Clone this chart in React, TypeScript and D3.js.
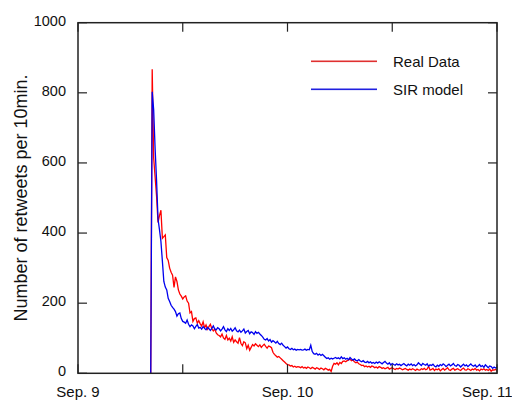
import React from "react";
import * as d3 from "d3";

// 10-minute bins, series start at bin START_BIN (minute 500)
const START_BIN = 50;
const BIN_MINUTES = 10;

const realData: number[] = [
  0, 867, 615, 560, 505, 430, 450, 465, 385, 390,
  395, 330, 322, 300, 288, 280, 245, 275, 262, 238,
  226, 220, 212, 218, 221, 206, 200, 172, 176, 148,
  156, 158, 143, 150, 141, 135, 147, 130, 138, 126,
  133, 140, 127, 121, 126, 115, 110, 108, 104, 112,
  101, 97, 108, 95, 100, 92, 104, 88, 95, 90,
  86, 102, 85, 79, 90, 87, 70, 80, 66, 74,
  82, 78, 84, 80, 76, 81, 74, 79, 83, 77,
  72, 78, 76, 73, 60, 54, 50, 46, 48, 44,
  40, 36, 32, 28, 25, 24, 21, 22, 18, 20,
  17, 19, 18, 16, 19, 15, 17, 14, 18, 16,
  13, 17, 15, 12, 16, 14, 11, 15, 13, 10,
  14, 12, 9, 11, 5, 20, 28, 26, 30, 24,
  31, 28, 34, 35, 33, 36, 38, 40, 36, 38,
  33, 30, 32, 27, 25, 22, 23, 19, 21, 18,
  20, 17, 21, 19, 16, 18, 15, 19, 17, 14,
  16, 13, 15, 17, 12, 14, 16, 13, 11, 14,
  12, 15, 13, 10, 12, 14, 11, 9, 12, 10,
  13, 11, 8, 12, 10, 9, 13, 11, 14, 10,
  12, 20, 9, 11, 14, 8, 12, 10, 13, 7,
  11, 14, 9, 12, 16, 10, 8, 12, 14, 9,
  11, 13, 10, 8, 12, 15, 10, 9, 13, 11,
  8, 12, 10, 14, 9, 11, 7, 12, 10, 13,
  9, 11, 8, 12, 6, 10, 9, 11, 8,
];

const sirModel: number[] = [
  0, 803, 752, 641, 550, 440, 410, 376, 320, 262,
  246, 238, 214, 205, 194, 188, 183, 176, 163, 170,
  172, 156, 148, 146, 143, 152, 140, 133, 138, 135,
  127, 134, 139, 129, 131, 126, 133, 128, 124, 131,
  127, 122, 128, 135, 126, 124, 130, 127, 121, 126,
  133, 124, 119, 127, 122, 128, 120, 124, 130, 121,
  118, 123, 117, 121, 126, 115, 119, 122, 113, 118,
  116, 111, 119, 114, 117, 112, 108, 103, 97, 95,
  99, 92, 96, 89, 93, 90, 86, 91, 85, 82,
  86, 80, 76, 72, 75, 70, 68, 71, 67, 69,
  66, 68, 67, 68, 66, 67, 69, 66, 68, 67,
  80, 62, 56, 54, 57, 52, 55, 51, 54, 50,
  46, 42, 44, 40, 43, 41, 43, 45, 42, 44,
  41, 47, 42, 44, 40, 43, 39, 45, 41, 38,
  41, 37, 36, 39, 35, 33, 36, 32, 31, 34,
  30, 33, 29, 31, 28, 32, 29, 33, 30, 27,
  31, 34, 29, 26, 30, 24, 28, 25, 23, 27,
  24, 26, 22, 25, 28, 24, 21, 26, 23, 27,
  22, 25, 21, 24, 30, 26, 22, 28, 25, 23,
  27, 20, 24, 22, 26, 21, 18, 23, 20, 25,
  22, 27, 24, 19, 23, 26, 21, 24, 28, 22,
  20, 25, 23, 18, 22, 26, 21, 24, 19, 23,
  27, 22, 20, 24, 18, 21, 25, 19, 22, 17,
  24, 20, 16, 21, 19, 14, 18, 15, 18,
];

const yTicks = [0, 200, 400, 600, 800, 1000];
const xTickMinutes = [0, 720, 1440, 2160, 2880];
const xLabels = [
  { minute: 0, text: "Sep. 9" },
  { minute: 1440, text: "Sep. 10" },
  { minute: 2880, text: "Sep. 11" },
];
const seriesNames = ["Real Data", "SIR model"];
const seriesColors = ["#ff0000", "#0000ee"];
const legendColors = ["#e03030", "#2020e0"];

const W = 512;
const H = 400;
const L = 78;
const R = 497;
const T = 22.7;
const B = 373.3;

export default function App() {
  const x = d3.scaleLinear().domain([0, 2880]).range([L, R]);
  const y = d3.scaleLinear().domain([0, 1000]).range([B, T]);
  const line = d3
    .line<number>()
    .x((_, i) => x((START_BIN + i) * BIN_MINUTES))
    .y((d) => y(d));

  const font = "Liberation Sans, Arial, Helvetica, sans-serif";
  const tickLen = 9;
  const axisColor = "#222";

  return (
    <svg
      width={W}
      height={H}
      style={{ position: "absolute", left: 0, top: 0, background: "#fff" }}
      fontFamily={font}
    >
      {/* data */}
      <path d={line(realData) || ""} fill="none" stroke={seriesColors[0]} strokeWidth={1.3} />
      <path d={line(sirModel) || ""} fill="none" stroke={seriesColors[1]} strokeWidth={1.3} />

      {/* frame */}
      <rect x={L} y={T} width={R - L} height={B - T} fill="none" stroke={axisColor} strokeWidth={1.5} />

      {/* y ticks */}
      {yTicks.map((t) => (
        <g key={"y" + t}>
          <line x1={L} x2={L + tickLen} y1={y(t)} y2={y(t)} stroke={axisColor} strokeWidth={1.2} />
          <line x1={R} x2={R - tickLen} y1={y(t)} y2={y(t)} stroke={axisColor} strokeWidth={1.2} />
          <text x={66} y={y(t) + 3} textAnchor="end" fontSize={14.5} fill="#111">
            {t}
          </text>
        </g>
      ))}

      {/* x ticks */}
      {xTickMinutes.map((m) => (
        <g key={"x" + m}>
          <line x1={x(m)} x2={x(m)} y1={B} y2={B - tickLen} stroke={axisColor} strokeWidth={1.2} />
          <line x1={x(m)} x2={x(m)} y1={T} y2={T + tickLen} stroke={axisColor} strokeWidth={1.2} />
        </g>
      ))}
      {xLabels.map((l, i) => (
        <text
          key={l.text}
          x={i === xLabels.length - 1 ? 462 : x(l.minute)}
          y={397}
          textAnchor={i === xLabels.length - 1 ? "start" : "middle"}
          fontSize={15}
          fill="#111"
        >
          {l.text}
        </text>
      ))}

      {/* y label */}
      <text
        transform={`translate(26.5, 198) rotate(-90)`}
        textAnchor="middle"
        fontSize={18}
        fill="#111"
      >
        Number of retweets per 10min.
      </text>

      {/* legend */}
      {seriesNames.map((n, i) => (
        <g key={n}>
          <rect x={311} y={60.5 + i * 28} width={66} height={1.6} fill={legendColors[i]} />
          <text x={393} y={67 + i * 28} fontSize={15} fill="#111">
            {n}
          </text>
        </g>
      ))}
    </svg>
  );
}
